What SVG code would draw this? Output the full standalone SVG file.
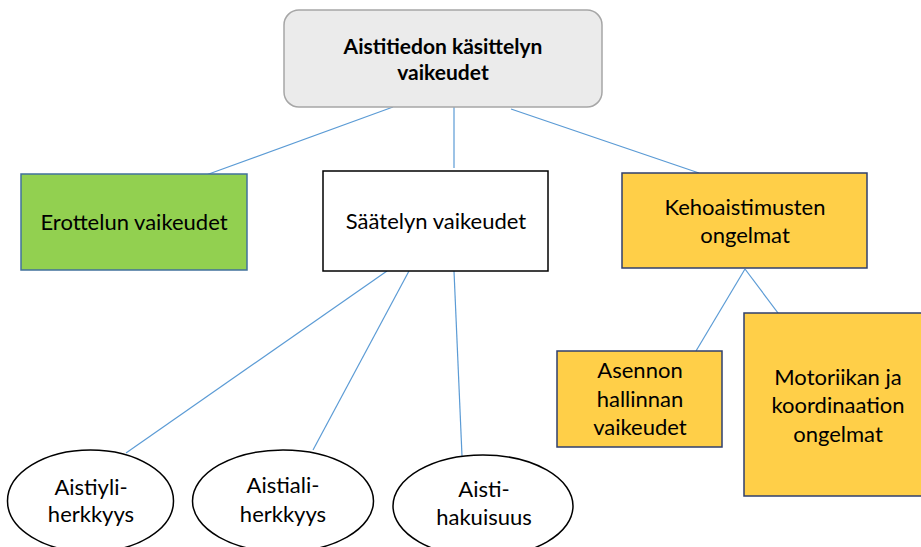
<svg xmlns="http://www.w3.org/2000/svg" width="921" height="547" viewBox="0 0 921 547">
<style>
text{font-family:Lato,"Liberation Sans",sans-serif;font-size:22px;fill:#000;text-anchor:middle}
.b{font-weight:bold;font-size:21px}
.c{stroke:#5b9bd5;stroke-width:1.2;fill:none}
.y{fill:#ffcf48;stroke:#2f3f6e;stroke-width:1.5}
.e{fill:#fff;stroke:#000;stroke-width:1.5}
</style>
<rect width="921" height="547" fill="#fff"/>
<g id="connectors">
<line class="c" x1="393" y1="107" x2="206" y2="175"/>
<line class="c" x1="454" y1="107" x2="454" y2="168"/>
<line class="c" x1="511" y1="109" x2="699" y2="173"/>
<line class="c" x1="387" y1="271" x2="126" y2="453"/>
<line class="c" x1="409" y1="271" x2="313" y2="450"/>
<line class="c" x1="454" y1="271" x2="462" y2="456"/>
<line class="c" x1="745" y1="269" x2="696" y2="351"/>
<line class="c" x1="745" y1="269" x2="781" y2="317"/>
</g>
<g id="top">
<rect x="284" y="10" width="318" height="97" rx="15" fill="#ebebeb" stroke="#a6a6a6" stroke-width="1.5"/>
<text class="b" x="443" y="54">Aistitiedon käsittelyn</text>
<text class="b" x="443" y="80">vaikeudet</text>
</g>
<g id="erottelu">
<rect x="21" y="174" width="226" height="96" fill="#92d050" stroke="#41719c" stroke-width="1.5"/>
<text x="134" y="230">Erottelun vaikeudet</text>
</g>
<g id="saatelu">
<rect x="323" y="171" width="225" height="100" fill="#fff" stroke="#000" stroke-width="1.5"/>
<text x="436" y="229">Säätelyn vaikeudet</text>
</g>
<g id="keho">
<rect class="y" x="622" y="173" width="245" height="95"/>
<text x="745" y="215">Kehoaistimusten</text>
<text x="745" y="243">ongelmat</text>
</g>
<g id="asento">
<rect class="y" x="557" y="351" width="165" height="96"/>
<text x="640" y="378">Asennon</text>
<text x="640" y="407">hallinnan</text>
<text x="640" y="435">vaikeudet</text>
</g>
<g id="motoriikka">
<rect class="y" x="744" y="313" width="190" height="183"/>
<text x="838" y="385">Motoriikan ja</text>
<text x="838" y="413">koordinaation</text>
<text x="838" y="442">ongelmat</text>
</g>
<g id="yliherkkyys">
<ellipse class="e" cx="90.5" cy="501" rx="83" ry="51"/>
<text x="91" y="495">Aistiyli-</text>
<text x="91" y="522">herkkyys</text>
</g>
<g id="aliherkkyys">
<ellipse class="e" cx="283" cy="501" rx="90.5" ry="51"/>
<text x="283" y="493">Aistiali-</text>
<text x="283" y="522">herkkyys</text>
</g>
<g id="hakuisuus">
<ellipse class="e" cx="483" cy="506" rx="90" ry="51"/>
<text x="484" y="497">Aisti-</text>
<text x="484" y="525">hakuisuus</text>
</g>
</svg>
